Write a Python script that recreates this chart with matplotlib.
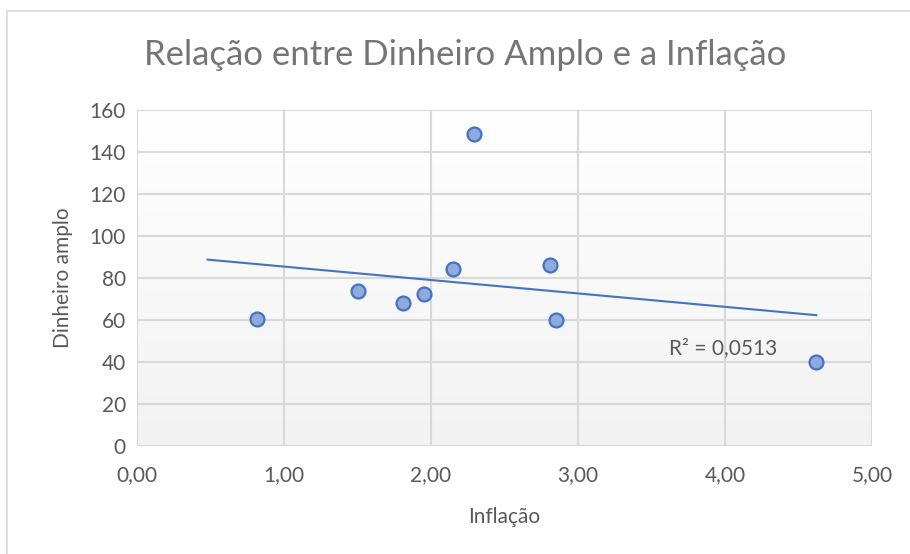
import numpy as np
import matplotlib.pyplot as plt
from matplotlib.patches import Rectangle
from matplotlib.ticker import FuncFormatter

# data
inflacao = [0.814, 1.501, 1.812, 1.952, 2.148, 2.290, 2.807, 2.848, 4.621]
dinheiro = [60.3, 73.5, 68.1, 72.1, 84.1, 148.6, 86.2, 60.0, 40.0]
x_ticks = [0, 1, 2, 3, 4, 5]
y_ticks = [0, 20, 40, 60, 80, 100, 120, 140, 160]

x = np.array(inflacao)
y = np.array(dinheiro)

# linear trendline and R²
a, b = np.polyfit(x, y, 1)
resid = y - (a * x + b)
r2 = 1 - np.sum(resid**2) / np.sum((y - y.mean())**2)

plt.rcParams['font.family'] = ['Lato', 'DejaVu Sans']

fig = plt.figure(figsize=(9.1, 5.54), dpi=100)
fig.patches.append(Rectangle((7 / 910, -0.1), 1.2, (554 - 11) / 554 + 0.1,
                             transform=fig.transFigure, fill=False,
                             edgecolor='#d9d9d9', linewidth=1.2))

ax = fig.add_axes([137 / 910, 1 - 445.7 / 554, 735 / 910, 335.7 / 554])

# gradient background of plot area
grad = np.linspace(1, 0, 256).reshape(-1, 1)
ax.imshow(grad, extent=[0, 1, 0, 1], transform=ax.transAxes, aspect='auto',
          cmap=plt.matplotlib.colors.LinearSegmentedColormap.from_list(
              'bg', ['#f2f2f2', '#ffffff']), zorder=0)

ax.set_xlim(0, 5)
ax.set_ylim(0, 160)
ax.set_xticks(x_ticks)
ax.set_yticks(y_ticks)
ax.xaxis.set_major_formatter(FuncFormatter(lambda v, p: f"{v:.2f}".replace('.', ',')))
ax.grid(True, color='#d9d9d9', linewidth=1.5, zorder=1)
ax.set_axisbelow(True)
for s in ax.spines.values():
    s.set_visible(False)
ax.tick_params(length=0, labelsize=15, labelcolor='#595959')
ax.tick_params(axis='x', pad=14)
ax.tick_params(axis='y', pad=8)

xt = np.linspace(0.48, x.max(), 50)
ax.plot(xt, a * xt + b, color='#4472c4', linewidth=1.5, zorder=3)
ax.plot(x, y, 'o', markersize=10, markerfacecolor='#8faadc',
        markeredgecolor='#4472c4', markeredgewidth=1.6, zorder=4)

ax.text(3.99, 46.5, "R² = " + f"{r2:.4f}".replace('.', ','), ha='center', va='center',
        fontsize=15, color='#595959', zorder=5)

ax.set_xlabel("Inflação", fontsize=15, color='#595959', labelpad=16)
ax.set_ylabel("Dinheiro amplo", fontsize=15, color='#595959', labelpad=12)
fig.text(465 / 910, 1 - 55 / 554, "Relação entre Dinheiro Amplo e a Inflação",
         ha='center', va='center', fontsize=25, color='#757575')

fig.savefig("out.png", dpi=100)
